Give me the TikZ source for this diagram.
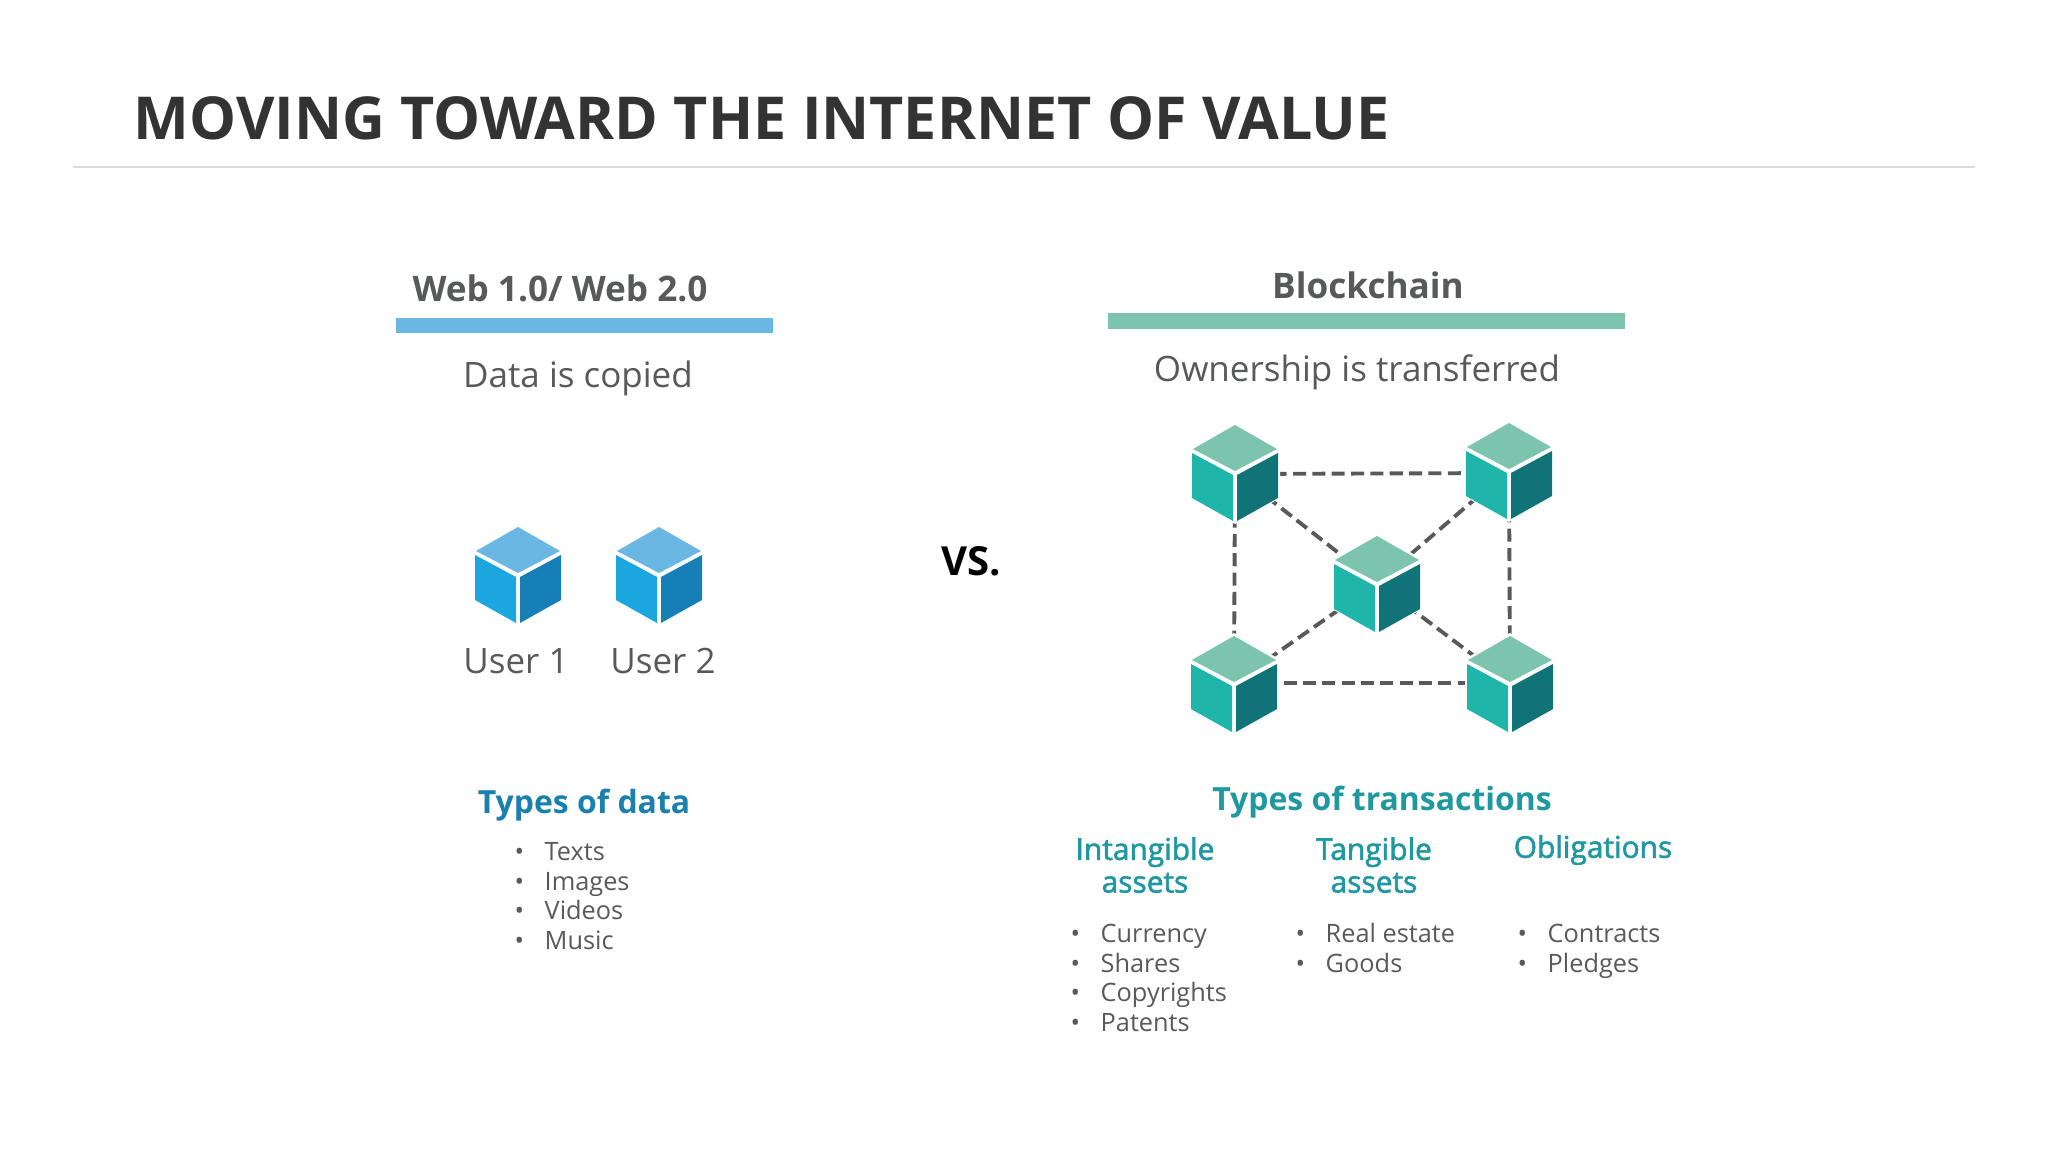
\documentclass[tikz,border=0pt]{standalone}
\usepackage{fontspec}
\setmainfont{Open Sans}
\newfontfamily\midfont[FakeBold=2]{Open Sans}
\definecolor{inkdark}{HTML}{333333}
\definecolor{inkgrey}{HTML}{58595B}
\definecolor{rulegrey}{HTML}{DCDCDC}
\definecolor{webblue}{HTML}{6BB7E4}
\definecolor{webleft}{HTML}{1BA6E0}
\definecolor{webright}{HTML}{177FB8}
\definecolor{chaingreen}{HTML}{7CC4AE}
\definecolor{chainleft}{HTML}{1FB5AA}
\definecolor{chainright}{HTML}{0F7377}
\definecolor{datahead}{HTML}{1A80AE}
\definecolor{txhead}{HTML}{1F98A2}
\tikzset{
  headline/.style={font=\fontsize{16.83}{20}\selectfont\bfseries,text=inkdark,inner sep=0pt},
  colhead/.style={font=\fontsize{10}{12}\selectfont\bfseries,text=inkgrey,inner sep=0pt},
  subhead/.style={font=\fontsize{9.95}{12}\selectfont,text=inkgrey,inner sep=0pt},
  typehead/.style={font=\fontsize{9.08}{12}\selectfont\bfseries,inner sep=0pt},
  assethead/.style={font=\fontsize{8.5}{9.3}\selectfont\midfont,text=txhead,align=center,inner sep=0pt},
  listitem/.style={font=\fontsize{7.2}{9}\selectfont,text=inkgrey,anchor=base west,inner sep=0pt},
  blockpt/.style={inner sep=0pt,minimum size=0pt},
  linkline/.style={inkgrey,line width=1.1pt,dash pattern=on 3.7pt off 1.8pt},
}
% one isometric block, white seams between the faces
\newcommand{\blockfaces}[4]{%
  \begin{scope}[shift={(#1)}]
    \fill[white] (0,-50) -- (45,-24) -- (45,26) -- (0,52) -- (-45,26) -- (-45,-24) -- cycle;
    \fill[#2] (0,-47) -- (42,-23) -- (0,-1) -- (-42,-23) -- cycle;
    \fill[#3] (-43,-19) -- (-2,3) -- (-2,49) -- (-43,26) -- cycle;
    \fill[#4] (43,-19) -- (2,3) -- (2,49) -- (43,26) -- cycle;
  \end{scope}}
\newcommand{\bulletlist}[3]{%
  \foreach \txt [count=\n] in {#3} {
    \node[listitem] (#1b\n) at (#1-30,{#2+9.5+(\n-1)*29.6}) {•};
    \node[listitem] (#1i\n) at (#1,{#2+9.5+(\n-1)*29.6}) {\txt};
  }}
\begin{document}
\begin{tikzpicture}[x=0.01cm,y=-0.01cm]
  \useasboundingbox (0,0) rectangle (2048,1152);
  \node[headline,anchor=west] (title) at (133,118) {MOVING TOWARD THE INTERNET OF VALUE};
  \draw[rulegrey,line width=0.6pt] (73,167) -- (1975,167);

  % left column
  \node[colhead] (webhead) at (560,288) {Web 1.0/ Web 2.0};
  \fill[webblue] (396,318) rectangle (773,333);
  \node[subhead] (webnote) at (578,378) {Data is copied};
  \blockfaces{518,574}{webblue}{webleft}{webright}
  \blockfaces{659,574}{webblue}{webleft}{webright}
  \node[subhead] (user1) at (516,661) {User 1};
  \node[subhead] (user2) at (663,661) {User 2};
  \node[typehead,text=datahead] (datatypes) at (584,805) {Types of data};
  \bulletlist{544}{851}{Texts,Images,Videos,Music}

  \node[font=\fontsize{11.4}{13}\selectfont\bfseries,text=black,inner sep=0pt] (versus) at (971,561) {VS.};

  % right column
  \node[colhead] (chainhead) at (1368,285) {Blockchain};
  \fill[chaingreen] (1108,313) rectangle (1625,329);
  \node[subhead] (chainnote) at (1357,372) {Ownership is transferred};

  \node[blockpt] (tl) at (1235,472) {};
  \node[blockpt] (tr) at (1509,470) {};
  \node[blockpt] (mid) at (1377,583) {};
  \node[blockpt] (bl) at (1234,683) {};
  \node[blockpt] (br) at (1510,683) {};
  \draw[linkline] ([yshift=-0.02cm]tl.center) -- ([yshift=-0.03cm]tr.center);
  \draw[linkline] (tr) -- (br);
  \draw[linkline] (br) -- (bl);
  \draw[linkline] (bl) -- (tl);
  \draw[linkline] (tl) -- (mid);
  \draw[linkline] (tr) -- (mid);
  \draw[linkline] (bl) -- (mid);
  \draw[linkline] (br) -- (mid);
  \foreach \b in {tl,tr,mid,bl,br}
    \blockfaces{\b}{chaingreen}{chainleft}{chainright};

  \node[typehead,text=txhead] (txtypes) at (1382,802) {Types of transactions};
  \node[assethead] (intangible) at (1145,865) {Intangible\\assets};
  \node[assethead] (tangible) at (1374,865) {Tangible\\assets};
  \node[assethead] (obligations) at (1593,850) {Obligations};
  \bulletlist{1100}{933}{Currency,Shares,Copyrights,Patents}
  \bulletlist{1325}{933}{Real estate,Goods}
  \bulletlist{1547}{933}{Contracts,Pledges}
\end{tikzpicture}
\end{document}
